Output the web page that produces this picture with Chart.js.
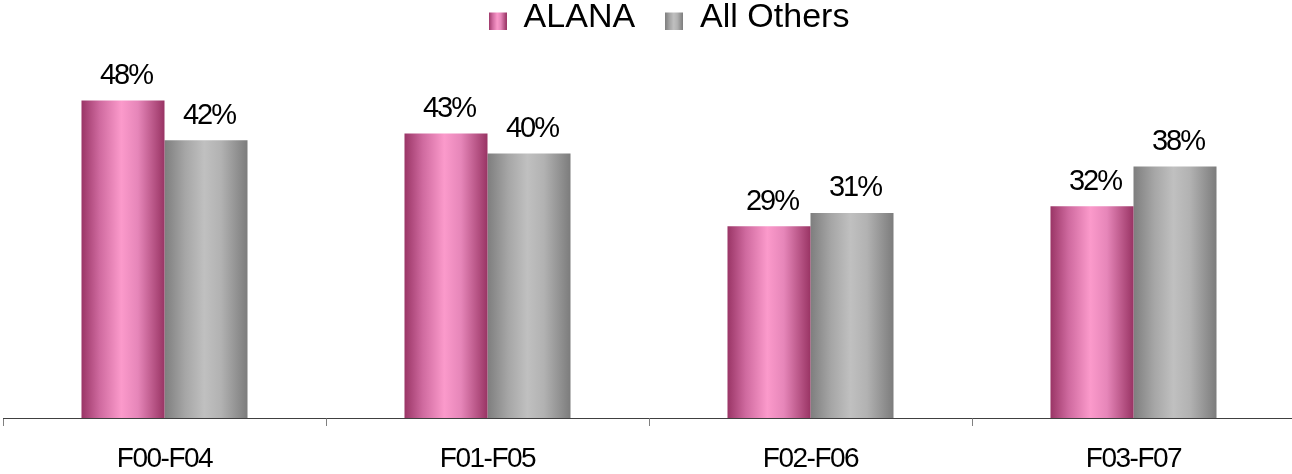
<!DOCTYPE html>
<html>
<head>
<meta charset="utf-8">
<script src="https://cdn.jsdelivr.net/npm/chart.js@4.4.1/dist/chart.umd.min.js"></script>
<style>
  html, body { margin: 0; padding: 0; background: #fff; overflow: hidden; }
  #wrap { width: 1296px; height: 474px; }
</style>
</head>
<body>
<div id="wrap"><canvas id="chart" width="1296" height="474"></canvas></div>
<script>
// data
var periods = ["F00-F04", "F01-F05", "F02-F06", "F03-F07"];
var alana = [48, 43, 29, 32];
var allOthers = [42, 40, 31, 38];

var FONT = "'Liberation Sans', Arial, sans-serif";

// horizontal "cylinder" shading for each series
var pinkStops = [[0, "#9a3566"], [0.22, "#cf6a9f"], [0.48, "#fb9acb"], [0.68, "#e686b9"], [1, "#993464"]];
var grayStops = [[0, "#7e7e7e"], [0.25, "#a6a6a6"], [0.48, "#c0c0c0"], [0.68, "#b2b2b2"], [1, "#7c7c7c"]];

function makeGradient(ctx, x0, x1, stops) {
  var g = ctx.createLinearGradient(x0, 0, x1, 0);
  stops.forEach(function(s) { g.addColorStop(s[0], s[1]); });
  return g;
}

// small swatch used as the legend marker (square sits low, like the original)
function swatch(stops) {
  var c = document.createElement("canvas");
  c.width = 18; c.height = 23;
  var cx = c.getContext("2d");
  cx.fillStyle = makeGradient(cx, 0, 18, stops);
  cx.fillRect(0, 6, 18, 17);
  return c;
}
var swatches = [swatch(pinkStops), swatch(grayStops)];
var seriesStops = [pinkStops, grayStops];

var shadingPlugin = {
  id: "shading",
  beforeDatasetsDraw: function(chart) {
    var ctx = chart.ctx;
    chart.data.datasets.forEach(function(ds, di) {
      chart.getDatasetMeta(di).data.forEach(function(el) {
        var left = el.x - el.width / 2;
        el.options = Object.assign({}, el.options, {
          backgroundColor: makeGradient(ctx, left, left + el.width, seriesStops[di])
        });
      });
    });
  }
};

var valueLabels = {
  id: "valueLabels",
  afterDatasetsDraw: function(chart) {
    var ctx = chart.ctx;
    ctx.save();
    ctx.font = "29px " + FONT;
    ctx.letterSpacing = "-2px";
    ctx.fillStyle = "#000";
    ctx.textAlign = "center";
    ctx.textBaseline = "alphabetic";
    chart.data.datasets.forEach(function(ds, di) {
      chart.getDatasetMeta(di).data.forEach(function(el, i) {
        ctx.fillText(ds.data[i] + "%", el.x + 3, el.y - 16.5);
      });
    });
    ctx.restore();
  }
};

// squeeze the axis labels a little, keep the legend at normal spacing
var spacing = {
  id: "spacing",
  afterInit: function(chart) {
    var orig = chart.legend.draw;
    chart.legend.draw = function() {
      var ls = this.ctx.letterSpacing;
      this.ctx.letterSpacing = "0px";
      orig.apply(this, arguments);
      this.ctx.letterSpacing = ls;
    };
  },
  beforeDraw: function(chart) { chart.ctx.letterSpacing = "-1.5px"; },
  afterLayout: function(chart) {
    var lg = chart.legend;
    lg.left += 20; lg.right += 20;
    lg.top -= 29; lg.bottom -= 29;
  }
};

var ctx = document.getElementById("chart").getContext("2d");
var myChart = new Chart(ctx, {
  type: "bar",
  data: {
    labels: periods,
    datasets: [
      { label: "ALANA", data: alana, backgroundColor: "#f090c0", borderWidth: 0 },
      { label: "All Others", data: allOthers, backgroundColor: "#b0b0b0", borderWidth: 0 }
    ]
  },
  options: {
    responsive: false,
    animation: false,
    devicePixelRatio: 1,
    categoryPercentage: 0.514,
    barPercentage: 1,
    layout: { padding: { left: 3, right: 1, top: 0, bottom: 2 } },
    plugins: {
      tooltip: { enabled: false },
      legend: {
        position: "top",
        labels: {
          usePointStyle: true,
          boxWidth: 18,
          boxHeight: 17,
          padding: 30,
          color: "#000",
          font: { family: FONT, size: 34 },
          generateLabels: function(chart) {
            var items = Chart.defaults.plugins.legend.labels.generateLabels(chart);
            items.forEach(function(it, i) { it.pointStyle = swatches[i]; });
            return items;
          }
        }
      }
    },
    scales: {
      x: {
        afterFit: function(scale) { scale.height = 54; },
        grid: {
          display: true,
          offset: true,
          drawOnChartArea: false,
          drawTicks: true,
          tickLength: 8,
          color: "#808080"
        },
        border: { display: true, color: "#404040", width: 1 },
        ticks: {
          color: "#000",
          padding: 16,
          autoSkip: false,
          maxRotation: 0,
          font: { family: FONT, size: 28 }
        }
      },
      y: {
        display: false,
        min: 0,
        max: 52
      }
    }
  },
  plugins: [shadingPlugin, valueLabels, spacing]
});
</script>
</body>
</html>
